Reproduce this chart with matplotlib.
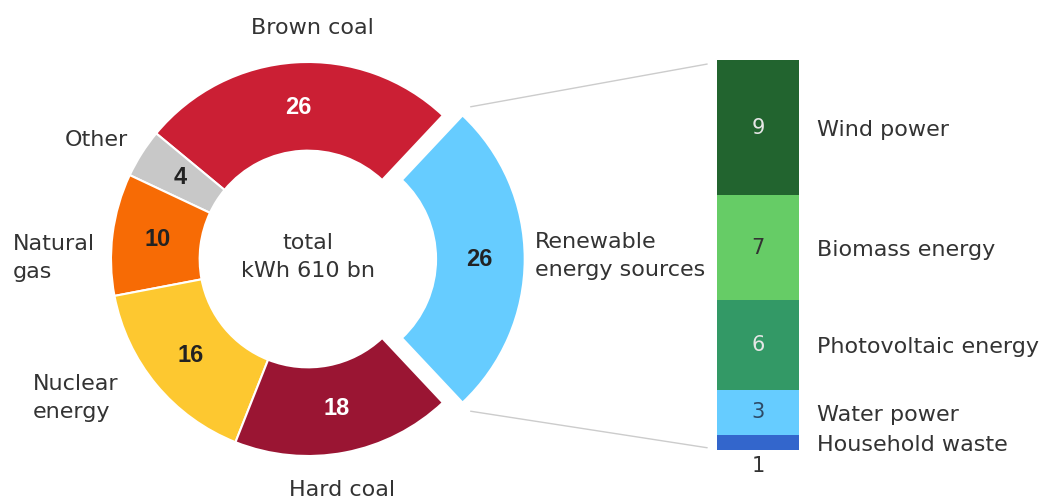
import numpy as np
import matplotlib
matplotlib.use("Agg")
import matplotlib.pyplot as plt
from matplotlib.patches import ConnectionPatch

plt.rcParams['font.family'] = ['DejaVu Sans']

# Donut data (share of gross electricity generation, %)
sources = ['Renewable\nenergy sources', 'Brown coal', 'Other', 'Natural\ngas',
           'Nuclear\nenergy', 'Hard coal']
shares = [26, 26, 4, 10, 16, 18]
src_colors = ['#66ccff', '#cb1f34', '#c8c8c8', '#f76b05', '#fdc830', '#9a1533']
num_colors = ['#222222', 'white', '#222222', '#222222', '#222222', 'white']

# Renewable breakdown (bottom to top)
ren_names = ['Household waste', 'Water power', 'Photovoltaic energy',
             'Biomass energy', 'Wind power']
ren_values = [1, 3, 6, 7, 9]
ren_colors = ['#3366cc', '#66ccff', '#339966', '#66cc66', '#22642f']
ren_num_colors = ['#333333', '#2d4a66', '#e6e6e6', '#333333', '#e6e6e6']

center_text = 'total\nkWh 610 bn'

# label anchors (pie data units) and alignment
label_pos = [(1.152, 0.015), (0.025, 1.173), (-0.914, 0.604), (-1.497, 0.005),
             (-1.396, -0.706), (0.173, -1.173)]
label_ha = ['left', 'center', 'right', 'left', 'left', 'center']

txt = '#333333'
W, H = 1043, 501
cx, cy, R = 308, 259, 197   # pixel centre and radius of donut

fig = plt.figure(figsize=(W / 100, H / 100), dpi=100)
ax = fig.add_axes([0, 0, 1, 1])

start = -shares[0] / 100 * 360 / 2
wedges, _ = ax.pie(shares, colors=src_colors, startangle=start,
                   counterclock=True, radius=1,
                   explode=[0.1, 0, 0, 0, 0, 0],
                   wedgeprops=dict(width=0.45, edgecolor='white', linewidth=1.5))
ax.set_xlim(-cx / R, (W - cx) / R)
ax.set_ylim((cy - H) / R, cy / R)
ax.set_aspect('equal')
ax.axis('off')

for i, w in enumerate(wedges):
    mid = np.deg2rad((w.theta1 + w.theta2) / 2)
    ox, oy = w.center
    r = 0.77
    ax.text(ox + r * np.cos(mid), oy + r * np.sin(mid), str(shares[i]),
            ha='center', va='center', fontsize=17, fontweight='bold',
            family='Liberation Sans', color=num_colors[i])
    lx, ly = label_pos[i]
    ax.text(lx, ly, sources[i], ha=label_ha[i], va='center', fontsize=16,
            color=txt, linespacing=1.55)

ax.text(0, 0.01, center_text, ha='center', va='center', fontsize=16,
        color=txt, linespacing=1.55)

# stacked bar for renewables
axb = fig.add_axes([717 / W, (H - 450) / H, 82 / W, 390 / H])
bottom = 0
for name, v, c, nc in zip(ren_names, ren_values, ren_colors, ren_num_colors):
    axb.bar(0, v, width=1, bottom=bottom, color=c, edgecolor='none')
    mid = bottom + v / 2
    if v > 1:
        axb.text(0, mid, str(v), ha='center', va='center', fontsize=15, color=nc)
    else:
        axb.text(0, -1.1, str(v), ha='center', va='center', fontsize=15,
                 color=nc, clip_on=False)
    axb.text(0.72, mid - 0.15, name, ha='left', va='center', fontsize=16,
             color=txt, clip_on=False)
    bottom += v
total_ren = sum(ren_values)
axb.set_xlim(-0.5, 0.5)
axb.set_ylim(0, total_ren)
axb.axis('off')

# connector lines from exploded wedge to bar
rw = wedges[0]
ox, oy = rw.center
for ang, yb in [(rw.theta2, total_ren - 0.27), (rw.theta1, 0.15)]:
    a = np.deg2rad(ang)
    con = ConnectionPatch(xyA=(ox + 1.06 * np.cos(a), oy + 1.06 * np.sin(a)),
                          coordsA=ax.transData, xyB=(-0.62, yb),
                          coordsB=axb.transData, color='#cccccc', lw=1)
    fig.add_artist(con)

fig.savefig('out.png', dpi=100)
